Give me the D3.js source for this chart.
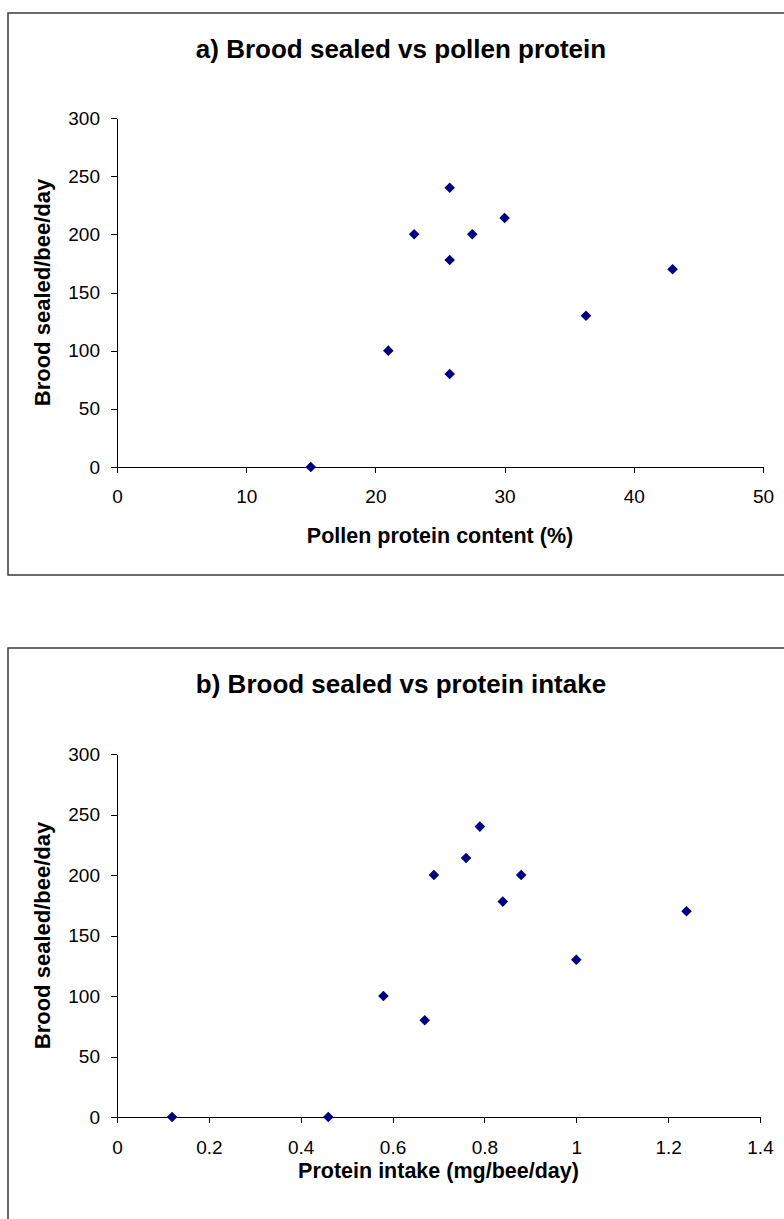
<!DOCTYPE html>
<html>
<head>
<meta charset="utf-8">
<script src="https://cdn.jsdelivr.net/npm/d3@7"></script>
<style>
  body { margin: 0; background: #fff; }
  text { font-family: Arial, "Liberation Sans", sans-serif; }
</style>
</head>
<body>
<div id="canvas"></div>
<script>
// chart a) brood sealed vs pollen protein content
var pollenProtein = [15, 21, 23, 25.75, 25.75, 25.75, 27.5, 30, 36.3, 43];
var broodA = [0, 100, 200, 80, 178, 240, 200, 214, 130, 170];
var xTicksA = [0, 10, 20, 30, 40, 50];

// chart b) brood sealed vs protein intake
var proteinIntake = [0.12, 0.46, 0.58, 0.67, 0.69, 0.76, 0.79, 0.84, 0.88, 1.0, 1.24];
var broodB = [0, 0, 100, 80, 200, 214, 240, 178, 200, 130, 170];
var xTicksB = [0, 0.2, 0.4, 0.6, 0.8, 1, 1.2, 1.4];

var yTicks = [0, 50, 100, 150, 200, 250, 300];

function run() {
  var width = 784,
    height = 1219;

  var svg = d3
    .select("#canvas")
    .append("svg")
    .attr("width", width)
    .attr("height", height);

  drawChart(svg, {
    frameTop: 13,
    frameHeight: 562,
    title: "a) Brood sealed vs pollen protein",
    xLabel: "Pollen protein content (%)",
    xs: pollenProtein,
    ys: broodA,
    xTicks: xTicksA,
    xMax: 50,
    left: 117,
    right: 763,
    top: 118,
    bottom: 467,
    xLabelY: 543,
    xTickPad: 17
  });

  drawChart(svg, {
    frameTop: 648,
    frameHeight: 620,
    title: "b) Brood sealed vs protein intake",
    xLabel: "Protein intake (mg/bee/day)",
    xs: proteinIntake,
    ys: broodB,
    xTicks: xTicksB,
    xMax: 1.4,
    left: 117,
    right: 760,
    top: 754,
    bottom: 1117,
    xLabelY: 1178,
    xTickPad: 18
  });
}

function drawChart(svg, c) {
  var g = svg.append("g");

  // chart area border
  g.append("rect")
    .attr("x", 8)
    .attr("y", c.frameTop)
    .attr("width", 820)
    .attr("height", c.frameHeight)
    .style("fill", "#fff")
    .style("stroke", "#3a3a3a")
    .style("stroke-width", 1.5);

  var x = d3.scaleLinear().domain([0, c.xMax]).range([c.left, c.right]);
  var y = d3.scaleLinear().domain([0, 300]).range([c.bottom, c.top]);

  g.append("text")
    .attr("x", 401)
    .attr("y", c.frameTop + 45)
    .attr("text-anchor", "middle")
    .style("font-size", "26px")
    .style("font-weight", "bold")
    .text(c.title);

  var yAxis = g
    .append("g")
    .attr("transform", "translate(" + c.left + ",0)")
    .call(
      d3
        .axisLeft(y)
        .tickValues(yTicks)
        .tickSize(6)
        .tickSizeOuter(0)
        .tickPadding(11)
    );

  var xAxis = g
    .append("g")
    .attr("transform", "translate(0," + c.bottom + ")")
    .call(
      d3
        .axisBottom(x)
        .tickValues(c.xTicks)
        .tickFormat(d3.format("~g"))
        .tickSize(6)
        .tickSizeOuter(0)
        .tickPadding(c.xTickPad)
    );

  [yAxis, xAxis].forEach(function(a) {
    a.selectAll("path, line")
      .style("stroke", "#000")
      .style("shape-rendering", "crispEdges");
    a.selectAll("text")
      .style("font-size", "19px")
      .style("fill", "#000");
  });

  g.append("text")
    .attr("transform", "translate(50," + (c.top + c.bottom) / 2 + ") rotate(-90)")
    .attr("text-anchor", "middle")
    .style("font-size", "22px")
    .style("font-weight", "bold")
    .text("Brood sealed/bee/day");

  g.append("text")
    .attr("x", (c.left + c.right) / 2)
    .attr("y", c.xLabelY)
    .attr("text-anchor", "middle")
    .style("font-size", "21.5px")
    .style("font-weight", "bold")
    .text(c.xLabel);

  var diamond = d3.symbol().type(d3.symbolSquare).size(56);

  g.append("g")
    .selectAll("path")
    .data(c.xs)
    .enter()
    .append("path")
    .attr("d", diamond)
    .attr("transform", function(d, i) {
      return "translate(" + x(d) + "," + y(c.ys[i]) + ") rotate(45)";
    })
    .style("fill", "#000080");
}

(function() {
  run();
})();
</script>
</body>
</html>
